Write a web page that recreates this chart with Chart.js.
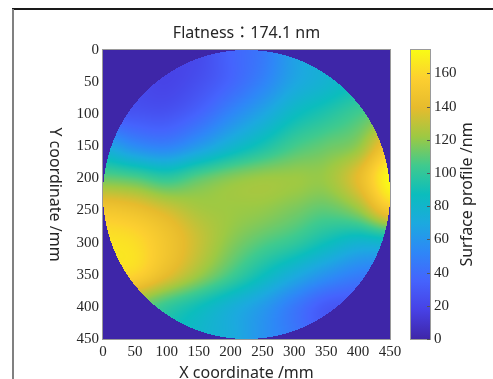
<!DOCTYPE html>
<html>
<head>
<meta charset="utf-8">
<script src="https://cdn.jsdelivr.net/npm/chart.js@4/dist/chart.umd.min.js"></script>
<style>
  html, body { margin: 0; padding: 0; background: #fff; }
</style>
</head>
<body>
<canvas id="flatness" width="493" height="379"></canvas>
<script>
// sample grid of the wafer map, mm
const gridX = [0, 50, 100, 150, 200, 250, 300, 350, 400, 450];
const gridY = [0, 50, 100, 150, 200, 250, 300, 350, 400, 450];

// surface profile (nm), one row per Y coordinate
const rowY0   = [25, 22, 20, 22, 35, 45, 65, 78, 85, 90];
const rowY50  = [26, 22, 19, 25, 36, 50, 68, 78, 88, 95];
const rowY100 = [30, 28, 27, 36, 52, 68, 85, 95, 105, 115];
const rowY150 = [70, 55, 50, 62, 78, 92, 105, 112, 120, 150];
const rowY200 = [112, 108, 100, 110, 118, 122, 122, 122, 140, 174];
const rowY250 = [150, 145, 135, 125, 122, 120, 115, 110, 120, 150];
const rowY300 = [165, 162, 148, 132, 118, 108, 100, 88, 78, 80];
const rowY350 = [160, 158, 140, 122, 105, 88, 72, 58, 48, 45];
const rowY400 = [130, 115, 100, 88, 75, 62, 45, 30, 28, 30];
const rowY450 = [110, 100, 90, 80, 72, 58, 45, 32, 28, 28];
const profileRows = [rowY0, rowY50, rowY100, rowY150, rowY200, rowY250, rowY300, rowY350, rowY400, rowY450];

const axisTicks = [0, 50, 100, 150, 200, 250, 300, 350, 400, 450];
const colorTicks = [0, 20, 40, 60, 80, 100, 120, 140, 160];
const flatness = 174.1;
const waferDiameter = 450;

// parula, sampled every 10 %
const parula = [
  [62, 38, 168], [71, 65, 229], [69, 99, 253], [46, 135, 247], [28, 169, 223],
  [11, 189, 189], [63, 202, 142], [157, 201, 67], [230, 187, 45], [252, 207, 48],
  [249, 251, 21]
];

function colorAt(t) {
  t = Math.min(1, Math.max(0, t)) * (parula.length - 1);
  const i = Math.min(parula.length - 2, Math.floor(t));
  const f = t - i;
  const a = parula[i], b = parula[i + 1];
  return [a[0] + (b[0] - a[0]) * f, a[1] + (b[1] - a[1]) * f, a[2] + (b[2] - a[2]) * f];
}

const points = [];
gridY.forEach((gy, j) => {
  gridX.forEach((gx, i) => {
    points.push({ x: gx, y: gy, v: profileRows[j][i] });
  });
});

function cubic(p0, p1, p2, p3, t) {
  return 0.5 * (2 * p1 + (p2 - p0) * t + (2 * p0 - 5 * p1 + 4 * p2 - p3) * t * t +
    (3 * p1 - p0 - 3 * p2 + p3) * t * t * t);
}

function sample(grid, xv, yv) {
  const nx = gridX.length, ny = gridY.length;
  const fx = (xv - gridX[0]) / (gridX[1] - gridX[0]);
  const fy = (yv - gridY[0]) / (gridY[1] - gridY[0]);
  const ix = Math.min(nx - 2, Math.max(0, Math.floor(fx)));
  const iy = Math.min(ny - 2, Math.max(0, Math.floor(fy)));
  const tx = fx - ix, ty = fy - iy;
  const at = (r, c) => grid[Math.min(ny - 1, Math.max(0, r))][Math.min(nx - 1, Math.max(0, c))];
  const rows = [];
  for (let r = -1; r <= 2; r++) {
    rows.push(cubic(at(iy + r, ix - 1), at(iy + r, ix), at(iy + r, ix + 1), at(iy + r, ix + 2), tx));
  }
  return cubic(rows[0], rows[1], rows[2], rows[3], ty);
}

const frame = {
  id: "frame",
  beforeDraw(chart) {
    const ctx = chart.ctx;
    ctx.save();
    ctx.lineWidth = 2;
    ctx.strokeStyle = "#1a1a1a";
    ctx.beginPath();
    ctx.moveTo(12, 9);
    ctx.lineTo(chart.width, 9);
    ctx.stroke();
    ctx.strokeStyle = "#808080";
    ctx.beginPath();
    ctx.moveTo(13, 9);
    ctx.lineTo(13, chart.height);
    ctx.stroke();
    ctx.restore();
  },
};

const heatmap = {
  id: "heatmap",
  beforeDatasetsDraw(chart) {
    const { ctx, chartArea: a, scales } = chart;
    const x = scales.x, y = scales.y;
    const pts = chart.data.datasets[0].data;
    const grid = gridY.map(() => []);
    pts.forEach((p) => {
      grid[gridY.indexOf(p.y)][gridX.indexOf(p.x)] = p.v;
    });
    const w = Math.round(a.right - a.left), h = Math.round(a.bottom - a.top);
    const off = document.createElement("canvas");
    off.width = w;
    off.height = h;
    const octx = off.getContext("2d");
    const img = octx.createImageData(w, h);
    const r = waferDiameter / 2;
    for (let j = 0; j < h; j++) {
      const yv = y.getValueForPixel(a.top + j + 0.5);
      for (let i = 0; i < w; i++) {
        const xv = x.getValueForPixel(a.left + i + 0.5);
        const inside = (xv - r) * (xv - r) + (yv - r) * (yv - r) <= r * r;
        const v = inside ? sample(grid, xv, yv) : 0;
        const c = colorAt(v / flatness);
        const k = (j * w + i) * 4;
        img.data[k] = c[0];
        img.data[k + 1] = c[1];
        img.data[k + 2] = c[2];
        img.data[k + 3] = 255;
      }
    }
    octx.putImageData(img, 0, 0);
    ctx.drawImage(off, a.left, a.top);
    ctx.save();
    ctx.strokeStyle = "#9a9a9a";
    ctx.lineWidth = 1;
    ctx.strokeRect(a.left - 0.5, a.top - 0.5, w + 1, h + 1);
    ctx.restore();
  },
  afterDraw(chart) {
    const { ctx, chartArea: a, scales } = chart;
    const cb = scales.cb;
    // colour bar
    const top = cb.getPixelForValue(flatness);
    const bottom = cb.getPixelForValue(0);
    const left = cb.left + 21, right = cb.left + 40;
    const g = ctx.createLinearGradient(0, bottom, 0, top);
    parula.forEach((c, i) => g.addColorStop(i / (parula.length - 1), `rgb(${c[0]},${c[1]},${c[2]})`));
    ctx.save();
    ctx.fillStyle = g;
    ctx.fillRect(left, top, right - left, bottom - top);
    ctx.strokeStyle = "#9a9a9a";
    ctx.lineWidth = 1;
    ctx.strokeRect(left - 0.5, top - 0.5, right - left + 1, bottom - top + 1);
    ctx.strokeStyle = "#555";
    cb.ticks.forEach((t) => {
      const ty = Math.round(cb.getPixelForValue(t.value)) + 0.5;
      ctx.beginPath();
      ctx.moveTo(right, ty);
      ctx.lineTo(right - 3, ty);
      ctx.stroke();
    });
    // rotated titles
    ctx.fillStyle = "#262626";
    ctx.font = '16px "Noto Sans", "Noto Sans CJK JP", sans-serif';
    ctx.textAlign = "center";
    ctx.textBaseline = "middle";
    ctx.save();
    ctx.translate(55, (a.top + a.bottom) / 2);
    ctx.rotate(Math.PI / 2);
    ctx.fillText("Y coordinate /mm", 0, 0);
    ctx.restore();
    ctx.save();
    ctx.translate(cb.left + 77, (top + bottom) / 2);
    ctx.rotate(-Math.PI / 2);
    ctx.fillText("Surface profile /nm", 0, 0);
    ctx.restore();
    ctx.restore();
  },
};

const tickFont = { family: '"Liberation Serif", "Times New Roman", serif', size: 15 };
const sansFont = { family: '"Noto Sans", "Noto Sans CJK JP", sans-serif', size: 16, lineHeight: 1 };

new Chart(document.getElementById("flatness"), {
  type: "scatter",
  plugins: [frame, heatmap],
  data: {
    datasets: [
      {
        data: points,
        pointRadius: 0,
        pointHoverRadius: 0,
        showLine: false,
      },
    ],
  },
  options: {
    responsive: false,
    animation: false,
    events: [],
    layout: { padding: 0, autoPadding: false },
    plugins: {
      legend: { display: false },
      tooltip: { enabled: false },
      title: {
        display: true,
        text: "Flatness：" + flatness + " nm",
        color: "#262626",
        font: { family: sansFont.family, size: 16, weight: "normal", lineHeight: 1.25 },
        padding: { top: 23, bottom: 7 },
      },
    },
    scales: {
      x: {
        type: "linear",
        position: "bottom",
        min: axisTicks[0],
        max: axisTicks[axisTicks.length - 1],
        afterBuildTicks: (s) => { s.ticks = axisTicks.map((v) => ({ value: v })); },
        afterFit: (s) => { s.height = 40; },
        ticks: { font: tickFont, color: "#262626", padding: 4, maxRotation: 0, autoSkip: false },
        grid: { display: false, drawTicks: false },
        border: { display: false },
        title: {
          display: true,
          text: "X coordinate /mm",
          color: "#262626",
          font: sansFont,
          padding: { top: 0, bottom: -2 },
        },
      },
      y: {
        type: "linear",
        position: "left",
        reverse: true,
        min: axisTicks[0],
        max: axisTicks[axisTicks.length - 1],
        afterBuildTicks: (s) => { s.ticks = axisTicks.map((v) => ({ value: v })); },
        afterFit: (s) => { s.width = 103; },
        ticks: { font: tickFont, color: "#262626", padding: 4, autoSkip: false },
        grid: { display: false, drawTicks: false },
        border: { display: false },
      },
      cb: {
        type: "linear",
        position: "right",
        min: 0,
        max: flatness,
        afterBuildTicks: (s) => { s.ticks = colorTicks.map((v) => ({ value: v })); },
        afterFit: (s) => { s.width = 103; },
        ticks: { font: tickFont, color: "#262626", padding: 4, autoSkip: false },
        grid: { display: false, drawTicks: true, tickLength: 40 },
        border: { display: false },
      },
    },
  },
});
</script>
</body>
</html>
